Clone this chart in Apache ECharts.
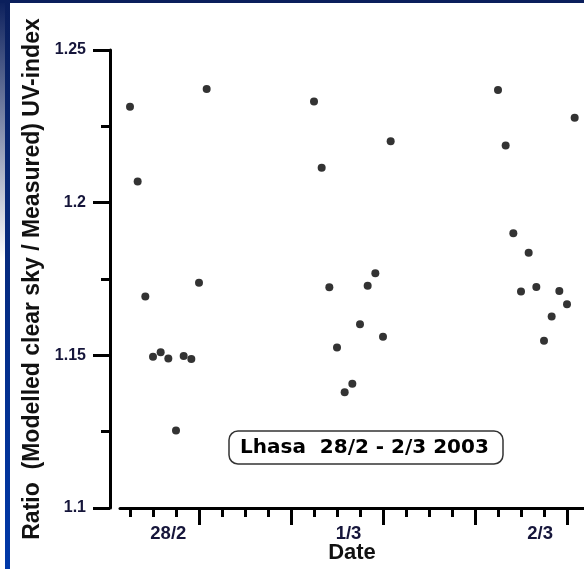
<!DOCTYPE html>
<html>
<head>
<meta charset="utf-8">
<script src="https://cdn.jsdelivr.net/npm/echarts@6/dist/echarts.min.js"></script>
<style>
  body { margin: 0; background: #fff; }
  #topbar { position: absolute; left: 0; top: 0; width: 584px; height: 3px; background: #0b1f5c; }
  #leftbar { position: absolute; left: 5px; top: 0; width: 5px; height: 569px; background: linear-gradient(#0b1f5c, #0038a8); }
  #leftfade { position: absolute; left: 0; top: 0; width: 5px; height: 260px; background: linear-gradient(#0b1f5c, rgba(11,31,92,0)); }
  #main { position: absolute; left: 0; top: 0; width: 584px; height: 569px; }
</style>
</head>
<body>
<div id="topbar"></div>
<div id="leftbar"></div>
<div id="leftfade"></div>
<div id="main"></div>
<script>
// hours (UTC) counted from 28/2 00:00
var obsHours = [3, 4, 5, 6, 7, 8, 9, 10, 11, 12, 13,
                27, 28, 29, 30, 31, 32, 33, 34, 35, 36, 37,
                51, 52, 53, 54, 55, 56, 57, 58, 59, 60, 61];
var ratio = [1.2314, 1.2069, 1.1693, 1.1495, 1.1510, 1.1490, 1.1254, 1.1498, 1.1488, 1.1738, 1.2372,
             1.2331, 1.2114, 1.1723, 1.1526, 1.1379, 1.1407, 1.1602, 1.1728, 1.1769, 1.1561, 1.2201,
             1.2369, 1.2187, 1.1900, 1.1709, 1.1836, 1.1724, 1.1548, 1.1627, 1.1711, 1.1667, 1.2278];
var dayLabels = ['28/2', '1/3', '2/3'];
var dayLabelHours = [8, 31.5, 56.5];
var yTicks = [1.1, 1.15, 1.2, 1.25];

var points = obsHours.map(function (h, i) { return [h, ratio[i]]; });

// pixels per hour on the date axis, all x grids share it
var pxPerHour = 92 / 12;
var xEnd = 63;

var chart = echarts.init(document.getElementById('main'));
var black = '#000';
var labelColor = '#15153a';

function gridAt(left, width) {
  return { left: left, width: width, top: 50, bottom: 61, outerBoundsMode: 'none', containLabel: false };
}

chart.setOption({
  animation: false,
  title: {
    text: 'Lhasa  28/2 - 2/3 2003',
    left: 229, top: 431,
    padding: [7, 14, 6, 11],
    borderColor: '#333', borderWidth: 1.5, borderRadius: 9,
    backgroundColor: '#fff',
    textStyle: { fontFamily: 'DejaVu Sans', fontWeight: 'bold', fontSize: 20, color: '#000' }
  },
  grid: [
    gridAt(130, (xEnd - 3) * pxPerHour),
    gridAt(130 + 9 * pxPerHour, (xEnd - 12) * pxPerHour),
    gridAt(120, 480),
    gridAt(130 + 5 * pxPerHour, (xEnd - 8) * pxPerHour)
  ],
  xAxis: [
    {
      gridIndex: 0, type: 'value', min: 3, max: xEnd, interval: 3,
      axisLine: { show: false },
      axisTick: { show: true, length: 9, lineStyle: { width: 3, color: black } },
      axisLabel: { show: false }, splitLine: { show: false }
    },
    {
      gridIndex: 1, type: 'value', min: 12, max: xEnd, interval: 12,
      axisLine: { show: false },
      axisTick: { show: true, length: 17, lineStyle: { width: 3, color: black } },
      axisLabel: { show: false }, splitLine: { show: false }
    },
    {
      gridIndex: 2, type: 'value', min: 0, max: 1,
      axisLine: { show: true, lineStyle: { width: 3, color: black } },
      axisTick: { show: false }, axisLabel: { show: false }, splitLine: { show: false },
      name: 'Date', nameLocation: 'start', nameGap: -232,
      nameTextStyle: { fontFamily: 'Liberation Sans', fontWeight: 'bold', fontSize: 22, color: '#111',
                       verticalAlign: 'top', align: 'center', padding: [34, 0, 0, 0] }
    },
    {
      gridIndex: 3, type: 'value', min: 8, max: xEnd, interval: 0.5,
      axisLine: { show: false }, axisTick: { show: false }, splitLine: { show: false },
      axisLabel: {
        show: true, margin: 16, showMinLabel: true, showMaxLabel: true,
        fontFamily: 'Liberation Sans', fontWeight: 'bold', fontSize: 18.5, color: labelColor,
        formatter: function (v) {
          var i = dayLabelHours.indexOf(v);
          return i >= 0 ? dayLabels[i] : '';
        }
      }
    }
  ],
  yAxis: [
    {
      gridIndex: 0, type: 'value', min: yTicks[0], max: yTicks[yTicks.length - 1], interval: 0.05,
      offset: 20,
      axisLine: { show: true, lineStyle: { width: 3, color: black } },
      axisTick: { show: true, length: 17, lineStyle: { width: 3, color: black } },
      minorTick: { show: true, splitNumber: 2, length: 9, lineStyle: { width: 3, color: black } },
      splitLine: { show: false },
      axisLabel: { margin: 24, fontFamily: 'Liberation Sans', fontWeight: 'bold', fontSize: 16, color: labelColor },
      name: 'Ratio  (Modelled clear sky / Measured) UV-index',
      nameLocation: 'middle', nameGap: 63,
      nameTextStyle: { fontFamily: 'Liberation Sans', fontWeight: 'bold', fontSize: 23, color: '#111' }
    },
    { gridIndex: 1, type: 'value', show: false },
    { gridIndex: 2, type: 'value', show: false },
    { gridIndex: 3, type: 'value', show: false }
  ],
  series: [
    {
      type: 'scatter', xAxisIndex: 0, yAxisIndex: 0,
      data: points, symbolSize: 8, clip: false,
      itemStyle: { color: black }
    }
  ]
});
</script>
</body>
</html>
